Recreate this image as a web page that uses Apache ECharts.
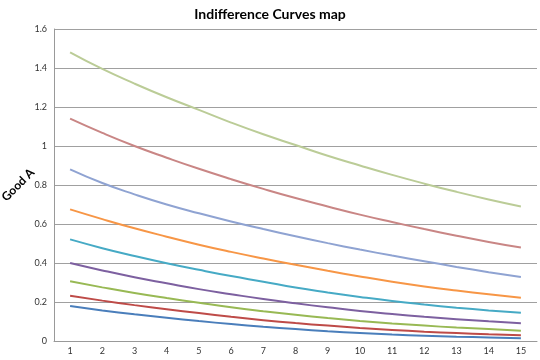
<!DOCTYPE html>
<html>
<head>
<meta charset="utf-8">
<script src="https://cdn.jsdelivr.net/npm/echarts@6/dist/echarts.min.js"></script>
<style>html,body{margin:0;padding:0;background:#fff}#c{width:540px;height:360px}</style>
</head>
<body>
<div id="c"></div>
<script>
var categories = ['1','2','3','4','5','6','7','8','9','10','11','12','13','14','15'];
var curve1 = [0.179,0.157,0.137,0.119,0.102,0.087,0.073,0.061,0.050,0.041,0.033,0.027,0.022,0.018,0.014];
var curve2 = [0.232,0.207,0.184,0.163,0.143,0.124,0.107,0.092,0.079,0.067,0.057,0.048,0.041,0.035,0.030];
var curve3 = [0.306,0.275,0.246,0.220,0.196,0.173,0.153,0.135,0.118,0.103,0.090,0.079,0.069,0.061,0.053];
var curve4 = [0.400,0.362,0.327,0.296,0.266,0.240,0.215,0.193,0.173,0.154,0.138,0.124,0.112,0.101,0.091];
var curve5 = [0.521,0.476,0.436,0.399,0.365,0.333,0.304,0.274,0.249,0.226,0.205,0.187,0.171,0.157,0.145];
var curve6 = [0.675,0.625,0.578,0.535,0.494,0.457,0.423,0.391,0.360,0.331,0.304,0.280,0.259,0.240,0.222];
var curve7 = [0.880,0.810,0.752,0.700,0.655,0.613,0.574,0.537,0.502,0.469,0.438,0.409,0.380,0.353,0.328];
var curve8 = [1.140,1.067,1.000,0.940,0.883,0.830,0.780,0.733,0.690,0.648,0.610,0.574,0.540,0.508,0.479];
var curve9 = [1.480,1.395,1.320,1.250,1.185,1.120,1.060,1.005,0.950,0.900,0.852,0.807,0.765,0.726,0.690];
var yTicks = { min: 0, max: 1.6, interval: 0.2 };

var colors = ['#4A7EBB','#BE4B48','#98B954','#7D60A0','#46AAC5','#F79646','#8FA3D2','#C98685','#BBCC97'];
var curves = [curve1,curve2,curve3,curve4,curve5,curve6,curve7,curve8,curve9];

var chart = echarts.init(document.getElementById('c'));
chart.setOption({
  animation: false,
  backgroundColor: '#fff',
  title: {
    text: 'Indifference Curves map',
    left: 'center', top: 2,
    textStyle: { fontFamily: 'Lato', fontWeight: 'bold', fontSize: 14, color: '#000' }
  },
  grid: { left: 54, right: 3, top: 29, bottom: 19 },
  xAxis: {
    type: 'category',
    data: categories,
    boundaryGap: true,
    axisLine: { lineStyle: { color: '#999', width: 1 } },
    axisTick: { show: false },
    axisLabel: { color: '#333', fontSize: 9, fontFamily: 'Lato', margin: 6 }
  },
  yAxis: {
    type: 'value',
    min: yTicks.min, max: yTicks.max, interval: yTicks.interval,
    axisLine: { show: true, lineStyle: { color: '#999', width: 1 } },
    axisTick: { show: false },
    splitLine: { lineStyle: { color: '#a0a0a0', width: 1 } },
    axisLabel: { color: '#333', fontSize: 9, fontFamily: 'Lato', margin: 7 }
  },
  graphic: [{
    type: 'text',
    x: 18, y: 185,
    rotation: Math.PI / 4,
    style: {
      text: 'Good A',
      fill: '#000',
      font: 'bold 12px "Lato"',
      align: 'center',
      verticalAlign: 'middle'
    }
  }],
  series: curves.map(function (d, i) {
    return {
      type: 'line',
      data: d,
      smooth: true,
      symbol: 'none',
      lineStyle: { color: colors[i], width: 2 },
      itemStyle: { color: colors[i] }
    };
  })
});
</script>
</body>
</html>
